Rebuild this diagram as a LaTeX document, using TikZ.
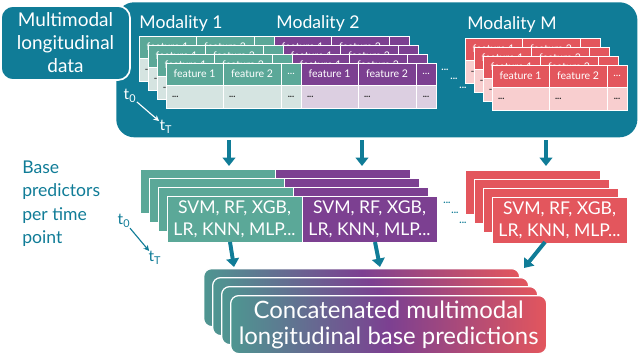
\documentclass[tikz,border=0pt]{standalone}
\usepackage{fontspec}
\setmainfont{Lato}
\usetikzlibrary{positioning,arrows.meta}
\definecolor{PanelTeal}{RGB}{16,124,151}
\definecolor{ModTeal}{RGB}{91,168,152}
\definecolor{ModTealLight}{RGB}{213,228,225}
\definecolor{ModPurple}{RGB}{124,64,145}
\definecolor{ModPurpleLight}{RGB}{220,207,225}
\definecolor{ModRed}{RGB}{227,86,93}
\definecolor{ModRedLight}{RGB}{248,206,207}
\definecolor{ConcatTeal}{RGB}{78,150,145}
\definecolor{DotGrey}{RGB}{40,40,40}
\pgfdeclarehorizontalshading{concatshade}{100bp}{color(0bp)=(ConcatTeal); color(25bp)=(ConcatTeal); color(50bp)=(ModPurple); color(75bp)=(ModRed); color(100bp)=(ModRed)}
\tikzset{
  hcell/.style={draw=white,line width=0.6pt,outer sep=0pt,inner sep=0pt,anchor=north west,
                minimum height=0.55cm,text=white,font=\fontsize{7.5}{9}\selectfont},
  bcell/.style={draw=white,line width=0.6pt,outer sep=0pt,inner xsep=0.15cm,inner ysep=0pt,
                anchor=north west,minimum height=0.575cm,align=left,text=DotGrey,
                font=\fontsize{6.5}{8}\selectfont\bfseries},
  predbox/.style={draw=white,line width=0.7pt,outer sep=0pt,anchor=north west,
                  minimum width=3.375cm,minimum height=1.1cm,text=white,align=center,
                  font=\fontsize{12.5}{15.6}\selectfont},
  concatbox/.style={draw=white,line width=0.9pt,rounded corners=0.2cm,anchor=north west,
                    shade,shading=concatshade,minimum width=7.9cm,minimum height=1.45cm,
                    text=white,align=center,font=\fontsize{17}{18.5}\selectfont},
  flow/.style={draw=PanelTeal,line width=2.8pt,-{Triangle[length=6pt,width=9pt]}},
  tarrow/.style={line width=0.8pt,-{Stealth[length=4pt,width=4pt]},shorten <=-1pt,shorten >=-1pt},
  tlabel/.style={inner sep=1pt,font=\fontsize{11}{12}\selectfont},
  gapdots/.style={inner sep=0pt,font=\fontsize{7}{8}\selectfont\bfseries}
}
\newcommand{\feattable}[5]{%
  \node[hcell,fill=#4,minimum width=1.425cm] (#1h1) at (#2,#3) {feature 1};
  \node[hcell,fill=#4,minimum width=1.45cm] (#1h2) at (#1h1.north east) {feature 2};
  \node[hcell,fill=#4,minimum width=0.5cm] (#1h3) at (#1h2.north east) {...};
  \node[bcell,fill=#5,text width=1.125cm] (#1b1) at (#1h1.south west) {...};
  \node[bcell,fill=#5,text width=1.15cm] (#1b2) at (#1h2.south west) {...};
  \node[bcell,fill=#5,minimum width=0.5cm,inner xsep=0pt,align=center] (#1b3) at (#1h3.south west) {...};
}

\begin{document}
\begin{tikzpicture}[x=0.025cm,y=-0.025cm]
  \useasboundingbox (0,0) rectangle (640,355);

  \node[fill=PanelTeal,rounded corners=0.45cm,anchor=north west,minimum width=13.025cm,
        minimum height=3.375cm] (panel) at (116,2) {};
  \node[fill=PanelTeal,draw=white,line width=1.2pt,rounded corners=0.3cm,minimum width=3.225cm,
        minimum height=1.85cm,text=white,align=center,font=\fontsize{13.5}{16.4}\selectfont]
    (mmdata) at (65.5,43) {Multimodal\\longitudinal\\data};

  \node[text=white,font=\fontsize{12.5}{14}\selectfont] (mod1) at (181,24) {Modality 1};
  \node[text=white,font=\fontsize{12.5}{14}\selectfont] (mod2) at (318,24) {Modality 2};
  \node[text=white,font=\fontsize{12.5}{14}\selectfont] (modM) at (512,25) {Modality M};

  \foreach \k in {0,...,3}{
    \feattable{ta\k}{139+9*\k}{36+9*\k}{ModTeal}{ModTealLight}
    \feattable{tb\k}{274+9*\k}{36+9*\k}{ModPurple}{ModPurpleLight}
    \feattable{tm\k}{465+9*\k}{38+9*\k}{ModRed}{ModRedLight}
  }
  \node[gapdots,text=white] (gapa1) at (445,70) {...};
  \node[gapdots,text=white] (gapa2) at (454,79) {...};
  \node[gapdots,text=white] (gapa3) at (463,88) {...};

  \node[tlabel,text=white] (t0a) at (130,96) {t\textsubscript{0}};
  \node[tlabel,text=white] (tTa) at (166,127) {t\textsubscript{T}};
  \draw[tarrow,white] (t0a) -- (tTa);

  \node[text=PanelTeal,anchor=north west,align=left,inner sep=0pt,
        font=\fontsize{12.5}{16.4}\selectfont] (basepred) at (22,161)
    {Base\\predictors\\per time\\point};
  \node[tlabel,text=PanelTeal] (t0b) at (124,221) {t\textsubscript{0}};
  \node[tlabel,text=PanelTeal] (tTb) at (155,258) {t\textsubscript{T}};
  \draw[tarrow,PanelTeal] (t0b) -- (tTb);

  \foreach \k in {0,...,2}{
    \node[predbox,fill=ModTeal] (pa\k) at (140+9*\k,169+9*\k) {};
    \node[predbox,fill=ModPurple] (pb\k) at (275+9*\k,169+9*\k) {};
    \node[predbox,fill=ModRed] (pm\k) at (465+9*\k,170+9*\k) {};
  }
  \node[predbox,fill=ModTeal] (pa3) at (167,196) {SVM, RF, XGB,\\LR, KNN, MLP...};
  \node[predbox,fill=ModPurple] (pb3) at (302,196) {SVM, RF, XGB,\\LR, KNN, MLP...};
  \node[predbox,fill=ModRed] (pm3) at (492,197) {SVM, RF, XGB,\\LR, KNN, MLP...};
  \node[gapdots,text=PanelTeal] (gapb1) at (447,203) {...};
  \node[gapdots,text=PanelTeal] (gapb2) at (455,213) {...};
  \node[gapdots,text=PanelTeal] (gapb3) at (463,223) {...};

  \foreach \k in {0,...,2}{
    \node[concatbox] (cc\k) at (203+9*\k,268+9*\k) {};
  }
  \node[concatbox] (cc3) at (230,295) {Concatenated multimodal\\longitudinal base predictions};

  \coordinate (in1) at (229,140);  \coordinate (out1) at (229,166);
  \coordinate (in2) at (362,140);  \coordinate (out2) at (362,166);
  \coordinate (in3) at (546,140);  \coordinate (out3) at (546,166);
  \draw[flow] (in1) -- (out1);
  \draw[flow] (in2) -- (out2);
  \draw[flow] (in3) -- (out3);

  \coordinate (pr1) at (230,242);  \coordinate (cn1) at (234,267);
  \coordinate (pr2) at (375,242);  \coordinate (cn2) at (380,267);
  \coordinate (pr3) at (545,242);  \coordinate (cn3) at (524,268);
  \draw[flow] (pr1) -- (cn1);
  \draw[flow] (pr2) -- (cn2);
  \draw[flow] (pr3) -- (cn3);
\end{tikzpicture}
\end{document}
